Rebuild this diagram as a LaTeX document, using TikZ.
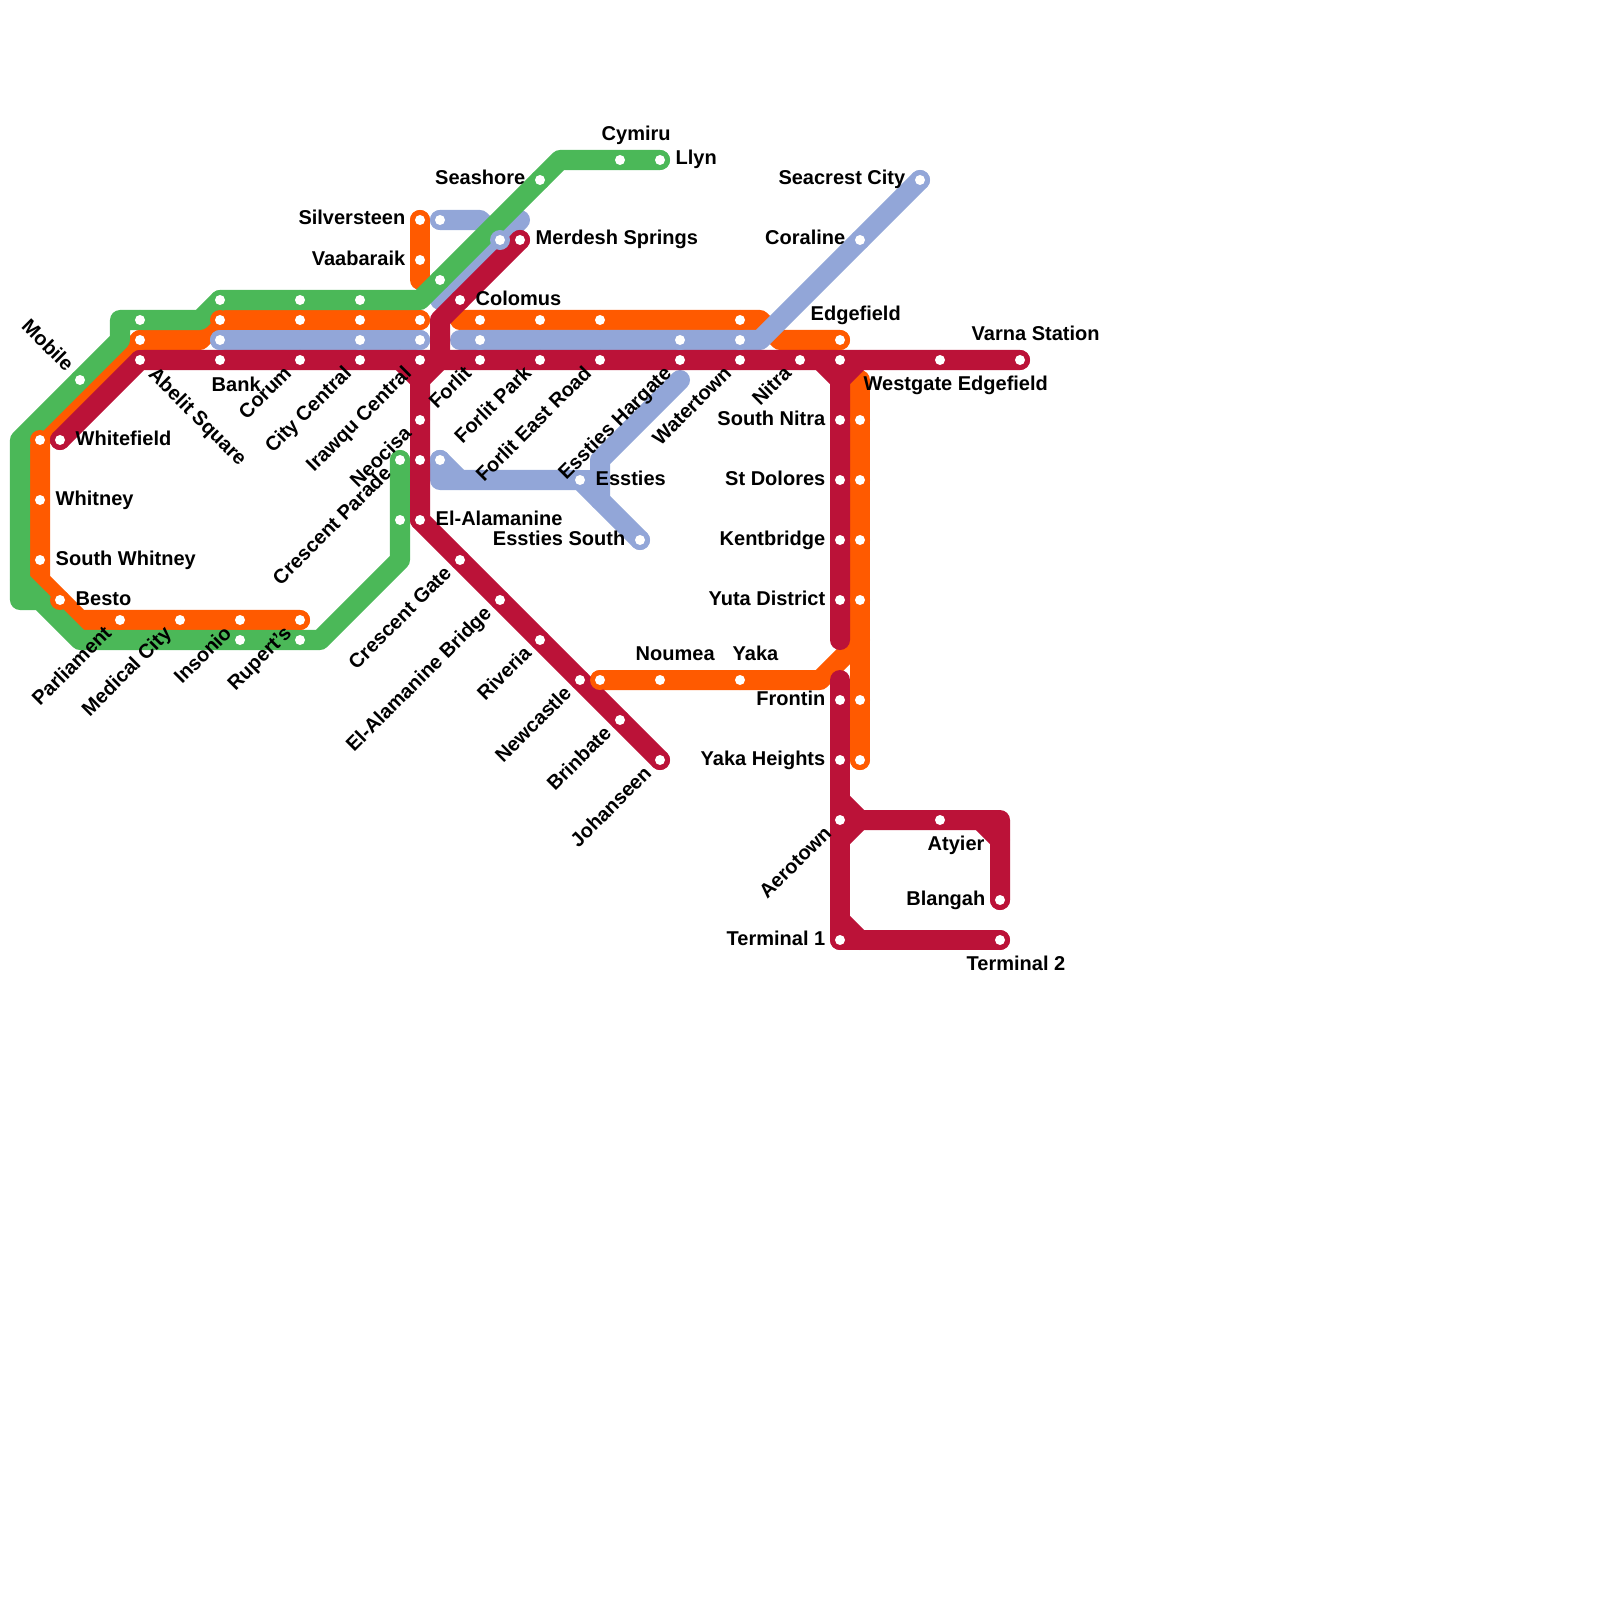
\documentclass[tikz,border=0pt]{standalone}
\usepackage{fontspec}
\setmainfont{Liberation Sans}
\usetikzlibrary{calc}
\definecolor{linegreen}{HTML}{4BB858}
\definecolor{lineorange}{HTML}{FF5A00}
\definecolor{lineblue}{HTML}{92A6D8}
\definecolor{linered}{HTML}{BB1238}
\tikzset{
    metro/.style={line width=0.2cm,line cap=round,line join=round,draw=#1},
    ring/.style={circle,inner sep=0pt,minimum size=0.2cm,fill=#1},
    hole/.style={circle,inner sep=0pt,minimum size=0.1cm,fill=white},
    lab/.style={font=\fontsize{5.69}{7}\selectfont\bfseries,inner sep=0pt,text=black},
}
\begin{document}
\begin{tikzpicture}[x=0.01cm,y=-0.01cm]
    \useasboundingbox (0,0) rectangle (1600,1600);

    % stations and bends
    \foreach \n/\x/\y in {llyn/660/160,cymiru/620/160,gA/560/160,seashore/540/180,gnA/440/280,gB/420/300,gnB/360/300,gnC/300/300,gnD/220/300,gC/200/320,gnE/140/320,gD/120/320,gE/120/340,mobile/80/380,gF/20/440,gL/20/580,gG/20/600,gH/40/600,gI/80/640,gnF/240/640,gnG/300/640,gJ/320/640,gK/400/560,gnH/400/520,crescentparade/400/460} {
        \coordinate (\n) at (\x,\y);
    }
    \foreach \n/\x/\y in {onA/420/320,onB/360/320,onC/300/320,onD/220/320,oA/200/340,onE/140/340,onF/40/440,whitney/40/500,southwhitney/40/560,oB/40/580,besto/60/600,oC/80/620,parliament/120/620,medicalcity/180/620,insonio/240/620,ruperts/300/620,
        oD/460/320,onG/480/320,onH/540/320,onI/600/320,onJ/740/320,oE/760/320,oF/780/340,edgefield/840/340,
        silversteen/420/220,vaabaraik/420/260,oG/420/280,
        onK/600/680,noumea/660/680,yaka/740/680,oH/820/680,oI/860/640,
        oJ/860/380,onL/860/420,onM/860/480,onN/860/540,onO/860/600,onP/860/700,onQ/860/760} {
        \coordinate (\n) at (\x,\y);
    }
    \foreach \n/\x/\y in {bnA/220/340,bnB/360/340,bnC/420/340,bA/460/340,bnD/480/340,bnE/680/340,bnF/740/340,bB/760/340,coraline/860/240,seacrest/920/180,
        bnG/440/220,bC/480/220,bnH/500/240,bD/520/220,bE/440/300,
        bnI/440/460,bF/440/480,bG/460/480,essties/580/480,esstiessouth/640/540,bH/680/380,bI/600/460,bJ/600/480,bK/600/500} {
        \coordinate (\n) at (\x,\y);
    }
    \foreach \n/\x/\y in {whitefield/60/440,abelit/140/360,bank/220/360,corum/300/360,citycentral/360/360,irawqu/420/360,forlit/480/360,forlitpark/540/360,forliteast/600/360,hargate/680/360,watertown/740/360,nitra/800/360,rnA/840/360,westgate/940/360,varna/1020/360,
        rA/400/360,rB/420/380,neocisa/420/420,rnB/420/460,elalamanine/420/520,crescentgate/460/560,bridge/500/600,riveria/540/640,newcastle/580/680,brinbate/620/720,johanseen/660/760,
        merdesh/520/240,colomus/460/300,rC/440/320,rD/440/360,
        rE/820/360,rF/840/380,rG/860/360,southnitra/840/420,stdolores/840/480,kentbridge/840/540,yuta/840/600,rH/840/640,
        rI/840/680,frontin/840/700,yakaheights/840/760,rJ/840/800,aerotown/840/820,rK/840/840,rL/860/820,atyier/940/820,rM/980/820,rN/1000/820,rO/1000/840,blangah/1000/900,
        rP/840/920,terminalone/840/940,rQ/860/940,terminaltwo/1000/940} {
        \coordinate (\n) at (\x,\y);
    }

    % orange
    \draw[metro=lineorange] (onA)--(onD)--(oA)--(onE)--(onF)--(oB)--(besto)--(oC)--(ruperts);
    \draw[metro=lineorange] (oD)--(oE)--(oF)--(edgefield);
    \draw[metro=lineorange] (silversteen)--(oG);
    \draw[metro=lineorange] (onK)--(oH)--(oI);
    \draw[metro=lineorange] (oJ)--(onQ);

    % blue
    \draw[metro=lineblue] (bnA)--(bnC);
    \draw[metro=lineblue] (bA)--(bB)--(seacrest);
    \draw[metro=lineblue] (bnG)--(bC)--(bnH);
    \draw[metro=lineblue] (bD)--(bE);
    \draw[metro=lineblue] (bnI)--(bF)--(essties)--(esstiessouth);
    \draw[metro=lineblue] (bnI)--(bG);
    \draw[metro=lineblue] (bH)--(bI)--(bK);
    \draw[metro=lineblue] (bJ)--(essties);

    % green
    \draw[metro=linegreen] (llyn)--(gA)--(gB)--(gnD)--(gC)--(gD)--(gE)--(gF)--(gG)--(gH)--(gI)--(gJ)--(gK)--(crescentparade);
    \draw[metro=linegreen] (gL)--(gH);

    % red
    \draw[metro=linered] (whitefield)--(abelit)--(varna);
    \draw[metro=linered] (rA)--(rB)--(elalamanine)--(johanseen);
    \draw[metro=linered] (merdesh)--(rC)--(rD)--(rB);
    \draw[metro=linered] (rE)--(rF)--(rH);
    \draw[metro=linered] (rG)--(rF);
    \draw[metro=linered] (rI)--(terminalone)--(terminaltwo);
    \draw[metro=linered] (rP)--(rQ);
    \draw[metro=linered] (rJ)--(rL)--(rN)--(blangah);
    \draw[metro=linered] (rK)--(rL);
    \draw[metro=linered] (aerotown)--(rL);
    \draw[metro=linered] (rM)--(rO);

    % station dots
    \foreach \n in {onA,onB,onC,onD,onE,onF,whitney,southwhitney,besto,parliament,medicalcity,insonio,ruperts,onG,onH,onI,onJ,edgefield,silversteen,vaabaraik,onK,noumea,yaka,onL,onM,onN,onO,onP,onQ} {
        \node[ring=lineorange] (ring\n) at (\n) {};
        \node[hole] (dot\n) at (\n) {};
    }
    \foreach \n in {bnA,bnB,bnC,bnD,bnE,bnF,coraline,seacrest,bnG,bnH,bnI,essties,esstiessouth} {
        \node[ring=lineblue] (ring\n) at (\n) {};
        \node[hole] (dot\n) at (\n) {};
    }
    \foreach \n in {llyn,cymiru,seashore,gnA,gnB,gnC,gnD,gnE,mobile,gnF,gnG,gnH,crescentparade} {
        \node[ring=linegreen] (ring\n) at (\n) {};
        \node[hole] (dot\n) at (\n) {};
    }
    \foreach \n in {whitefield,abelit,bank,corum,citycentral,irawqu,forlit,forlitpark,forliteast,hargate,watertown,nitra,rnA,westgate,varna,neocisa,rnB,elalamanine,crescentgate,bridge,riveria,newcastle,brinbate,johanseen,merdesh,colomus,southnitra,stdolores,kentbridge,yuta,frontin,yakaheights,aerotown,atyier,blangah,terminalone,terminaltwo} {
        \node[ring=linered] (ring\n) at (\n) {};
        \node[hole] (dot\n) at (\n) {};
    }

    % labels
    \foreach \n/\t in {whitefield/Whitefield,whitney/Whitney,southwhitney/South Whitney,besto/Besto,llyn/Llyn,merdesh/Merdesh Springs,colomus/Colomus,elalamanine/El-Alamanine,essties/Essties} {
        \node[lab,anchor=base west] (l\n) at ($(\n)+(15,5)$) {\t};
    }
    \foreach \n/\t in {silversteen/Silversteen,vaabaraik/Vaabaraik,seashore/Seashore,seacrest/Seacrest City,coraline/Coraline,southnitra/South Nitra,stdolores/St Dolores,kentbridge/Kentbridge,yuta/Yuta District,frontin/Frontin,yakaheights/Yaka Heights,terminalone/Terminal 1,blangah/Blangah,esstiessouth/Essties South} {
        \node[lab,anchor=base east] (l\n) at ($(\n)+(-14,5)$) {\t};
    }
    \foreach \n/\t in {corum/Corum,citycentral/City Central,irawqu/Irawqu Central,forlit/Forlit,forlitpark/Forlit Park,forliteast/Forlit East Road,hargate/Essties Hargate,watertown/Watertown,nitra/Nitra,neocisa/Neocisa,crescentparade/Crescent Parade,crescentgate/Crescent Gate,bridge/El-Alamanine Bridge,riveria/Riveria,newcastle/Newcastle,brinbate/Brinbate,johanseen/Johanseen,aerotown/Aerotown,parliament/Parliament,medicalcity/Medical City,insonio/Insonio,ruperts/Rupert's} {
        \node[lab,rotate=45,anchor=base east] (l\n) at ($(\n)+(-7,14)$) {\t};
    }
    \foreach \n/\x/\y/\t in {cymiru/601/140/Cymiru,edgefield/810/320/Edgefield,varna/971/340/Varna Station,noumea/635/660/Noumea,yaka/732/660/Yaka,westgate/863/390/Westgate Edgefield,atyier/927/850/Atyier,terminaltwo/966/970/Terminal 2,bank/211/391/Bank} {
        \node[lab,anchor=base west] (l\n) at (\x,\y) {\t};
    }
    \node[lab,rotate=-45,anchor=base east] (lmobile) at (66,373) {Mobile};
    \node[lab,rotate=-45,anchor=base west] (labelit) at (147,375) {Abelit Square};
\end{tikzpicture}
\end{document}
